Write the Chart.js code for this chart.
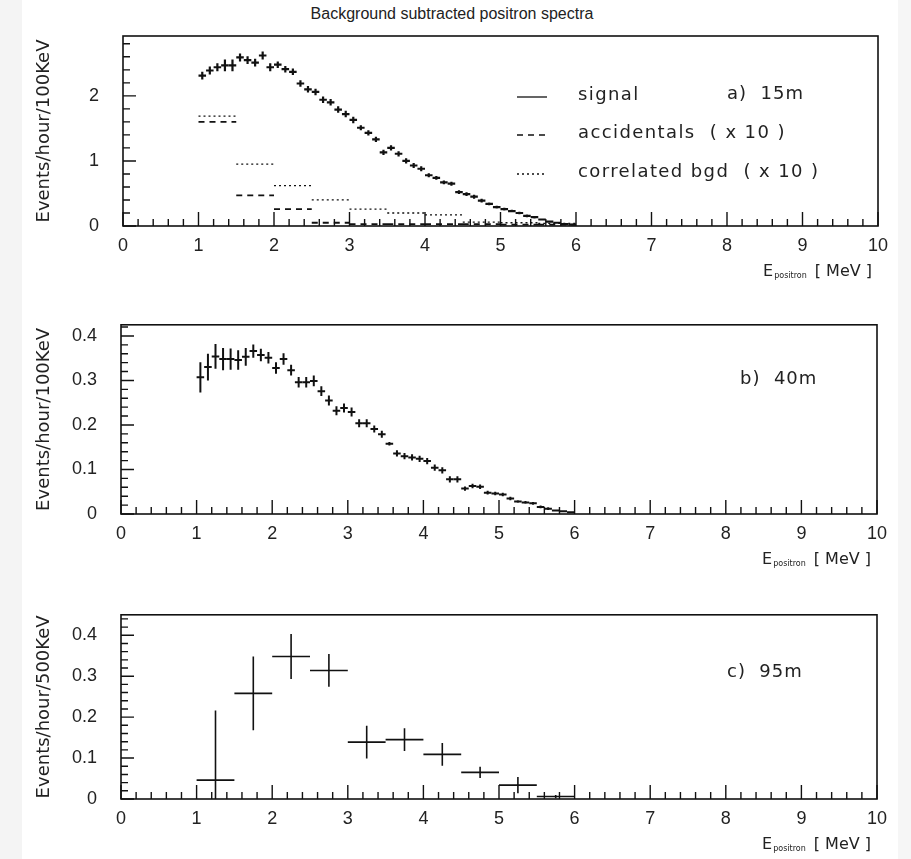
<!DOCTYPE html>
<html><head><meta charset="utf-8">
<script src="https://cdn.jsdelivr.net/npm/chart.js@4.4.1/dist/chart.umd.min.js"></script>
<style>
html,body{margin:0;padding:0;background:#fff;}
#wrap{position:relative;width:911px;height:859px;overflow:hidden;background:#fff;}
#lstrip{position:absolute;left:0;top:0;width:22px;height:859px;background:#f4f4f4;}
#rstrip{position:absolute;left:898px;top:0;width:13px;height:859px;background:#f6f6f6;}
canvas{position:absolute;left:0;}
#title{position:absolute;left:0;top:5px;width:904px;text-align:center;font:16px "Liberation Sans",sans-serif;color:#222;}
</style></head><body>
<div id="wrap">
<div id="lstrip"></div><div id="rstrip"></div>
<div id="title">Background subtracted positron spectra</div>
<canvas id="ca" width="911" height="290" style="top:0"></canvas>
<canvas id="cb" width="911" height="290" style="top:290px"></canvas>
<canvas id="cc" width="911" height="279" style="top:580px"></canvas>
</div>
<script>
// ---------------- data ----------------
const xTickLabels = ["0","1","2","3","4","5","6","7","8","9","10"];
const yTickLabelsA = ["0","1","2"];
const yTickLabelsB = ["0","0.1","0.2","0.3","0.4"];
const yTickLabelsC = ["0","0.1","0.2","0.3","0.4"];

// 100 keV bin centres (MeV)
const binCenters100 = [1.05,1.15,1.25,1.35,1.45,1.55,1.65,1.75,1.85,1.95,
  2.05,2.15,2.25,2.35,2.45,2.55,2.65,2.75,2.85,2.95,
  3.05,3.15,3.25,3.35,3.45,3.55,3.65,3.75,3.85,3.95,
  4.05,4.15,4.25,4.35,4.45,4.55,4.65,4.75,4.85,4.95,
  5.05,5.15,5.25,5.35,5.45,5.55,5.65,5.75,5.85,5.95];

// a) 15 m : signal, events/hour/100keV
const signalA = [2.31,2.39,2.44,2.47,2.47,2.59,2.55,2.51,2.62,2.44,
  2.48,2.41,2.37,2.19,2.10,2.06,1.94,1.90,1.79,1.72,
  1.63,1.51,1.43,1.33,1.13,1.20,1.11,1.00,0.93,0.88,
  0.78,0.74,0.67,0.65,0.52,0.49,0.45,0.39,0.34,0.29,
  0.26,0.23,0.20,0.155,0.135,0.10,0.067,0.05,0.03,0.02];
const signalAErr = [0.06,0.06,0.06,0.09,0.09,0.06,0.06,0.06,0.06,0.06,
  0.05,0.05,0.05,0.05,0.05,0.05,0.05,0.05,0.05,0.05,
  0.05,0.04,0.04,0.04,0.04,0.04,0.04,0.04,0.04,0.04,
  0.03,0.03,0.03,0.03,0.03,0.03,0.03,0.03,0.02,0.02,
  0.02,0.02,0.02,0.02,0.02,0.01,0.01,0.01,0.01,0.01];

// 500 keV background bins (lower edges, MeV)
const bgBinLow = [1.0,1.5,2.0,2.5,3.0,3.5,4.0,4.5,5.0,5.5];
const accidentalsA = [1.60,0.47,0.26,0.05,0.03,0.03,0.03,0.03,0.02,0.02]; // x10
const correlatedA  = [1.69,0.95,0.62,0.40,0.26,0.20,0.17,0.06,0.05,0.04]; // x10

// b) 40 m : signal, events/hour/100keV
const signalB = [0.307,0.330,0.354,0.348,0.348,0.346,0.353,0.366,0.357,0.351,
  0.328,0.348,0.323,0.296,0.296,0.299,0.276,0.255,0.232,0.238,
  0.229,0.204,0.204,0.191,0.179,0.158,0.136,0.130,0.127,0.124,
  0.119,0.104,0.098,0.078,0.078,0.057,0.063,0.061,0.048,0.046,
  0.044,0.035,0.028,0.026,0.024,0.016,0.012,0.008,0.006,0.004];
const signalBErr = [0.034,0.030,0.028,0.025,0.024,0.022,0.020,0.015,0.014,0.013,
  0.013,0.013,0.012,0.012,0.012,0.012,0.011,0.011,0.010,0.010,
  0.010,0.009,0.009,0.008,0.008,0.004,0.007,0.007,0.007,0.007,
  0.007,0.007,0.007,0.007,0.007,0.005,0.005,0.005,0.004,0.004,
  0.004,0.004,0.003,0.003,0.003,0.003,0.003,0.002,0.002,0.002];

// c) 95 m : signal, events/hour/500keV
const binCenters500 = [1.25,1.75,2.25,2.75,3.25,3.75,4.25,4.75,5.25,5.75];
const signalC = [0.046,0.258,0.348,0.314,0.139,0.145,0.109,0.065,0.034,0.006];
const signalCErr = [0.17,0.09,0.055,0.04,0.04,0.028,0.028,0.014,0.02,0.004];

// ---------------- drawing ----------------
const INK = '#111';
const TXT = '#222';
const TICK_FONT = {family: "'Liberation Sans', sans-serif", size: 18};
const TITLE_FONT = {family: "'DejaVu Sans', sans-serif", size: 18};

function points(xs, ys) { return xs.map((x, i) => ({x: x, y: ys[i]})); }
function steps(lows, width, vals) {
  const out = [];
  lows.forEach((lo, i) => {
    out.push({x: lo, y: vals[i]});
    out.push({x: lo + width, y: vals[i]});
    out.push({x: lo + width, y: null});
  });
  return out;
}

const hbook = {
  id: 'hbook',
  afterDatasetsDraw(chart, args, o) {
    const ctx = chart.ctx, a = chart.chartArea, xs = chart.scales.x, ys = chart.scales.y;
    ctx.save();
    ctx.beginPath();
    ctx.rect(a.left, a.top, a.right - a.left, a.bottom - a.top);
    ctx.clip();
    chart.data.datasets.forEach(ds => {
      if (!ds.errY) return;
      ctx.strokeStyle = INK;
      ctx.lineWidth = ds.barWidth;
      ds.data.forEach((p, i) => {
        const px = xs.getPixelForValue(p.x), py = ys.getPixelForValue(p.y);
        ctx.beginPath();
        ctx.moveTo(xs.getPixelForValue(p.x - ds.halfX), py);
        ctx.lineTo(xs.getPixelForValue(p.x + ds.halfX), py);
        ctx.moveTo(px, ys.getPixelForValue(p.y - ds.errY[i]));
        ctx.lineTo(px, ys.getPixelForValue(p.y + ds.errY[i]));
        ctx.stroke();
      });
    });
    ctx.restore();

    // frame
    ctx.save();
    ctx.strokeStyle = INK;
    ctx.lineWidth = 1.6;
    ctx.strokeRect(a.left, a.top, a.right - a.left, a.bottom - a.top);
    // inner ticks, x
    ctx.lineWidth = 1.4;
    ctx.beginPath();
    for (let i = 0; i <= 50; i++) {
      const v = i / 5;
      const px = xs.getPixelForValue(v);
      const len = (i % 5 === 0) ? 14 : 7;
      ctx.moveTo(px, a.bottom);
      ctx.lineTo(px, a.bottom - len);
    }
    // inner ticks, y
    const n = Math.floor(ys.max / o.yMinor + 1e-6);
    for (let i = 0; i <= n; i++) {
      const v = i * o.yMinor;
      const py = ys.getPixelForValue(v);
      const len = (i % o.yPer === 0) ? 13 : 7;
      ctx.moveTo(a.left, py);
      ctx.lineTo(a.left + len, py);
    }
    ctx.stroke();

    // x label  E_positron [ MeV ]
    ctx.fillStyle = TXT;
    ctx.textBaseline = 'middle';
    ctx.textAlign = 'right';
    const ly = a.bottom + 46;
    let xr = a.right - 6;
    ctx.font = "16px 'DejaVu Sans', sans-serif";
    ctx.fillText('[ MeV ]', xr, ly);
    xr -= ctx.measureText('[ MeV ]').width + 8;
    ctx.font = "8px 'DejaVu Sans', sans-serif";
    ctx.fillText('positron', xr, ly + 4);
    xr -= ctx.measureText('positron').width + 1;
    ctx.font = "16px 'DejaVu Sans', sans-serif";
    ctx.fillText('E', xr, ly);

    // annotations
    ctx.textAlign = 'left';
    (o.texts || []).forEach(t => {
      ctx.font = "18px 'DejaVu Sans', sans-serif";
      ctx.letterSpacing = t.ls || '0px';
      ctx.fillText(t.t, a.left + t.dx, a.top + t.dy);
      ctx.letterSpacing = '0px';
    });
    // legend
    (o.legend || []).forEach(l => {
      const y = a.top + l.dy;
      ctx.strokeStyle = INK;
      ctx.lineWidth = 1.3;
      ctx.setLineDash(l.dash);
      ctx.beginPath();
      ctx.moveTo(a.left + l.dx, y + 2);
      ctx.lineTo(a.left + l.dx + 30, y + 2);
      ctx.stroke();
      ctx.setLineDash([]);
      ctx.font = "18px 'DejaVu Sans', sans-serif";
      ctx.letterSpacing = '1.4px';
      ctx.fillText(l.t, a.left + l.dx + 61, y);
      ctx.letterSpacing = '0px';
    });
    ctx.restore();
  }
};

function makeChart(id, cfg) {
  const H = cfg.H;
  return new Chart(document.getElementById(id), {
    type: 'line',
    data: {datasets: cfg.datasets},
    plugins: [hbook],
    options: {
      responsive: false,
      animation: false,
      devicePixelRatio: 1,
      events: [],
      layout: {padding: {left: 0, top: cfg.T, right: 911 - cfg.R, bottom: 0}},
      elements: {point: {radius: 0}},
      plugins: {
        legend: {display: false},
        tooltip: {enabled: false},
        hbook: {yMinor: cfg.yMinor, yPer: cfg.yPer, texts: cfg.texts, legend: cfg.legend}
      },
      scales: {
        x: {
          type: 'linear', min: 0, max: 10,
          grid: {display: false, drawTicks: false},
          border: {display: false},
          ticks: {stepSize: 1, includeBounds: false, padding: 9, color: TXT, font: TICK_FONT,
            maxRotation: 0, autoSkip: false,
            callback: (v, i) => xTickLabels[i]},
          afterFit: s => { s.height = H - cfg.B; }
        },
        y: {
          type: 'linear', min: 0, max: cfg.ymax,
          grid: {display: false, drawTicks: false},
          border: {display: false},
          ticks: {stepSize: cfg.yStep, includeBounds: false, padding: 24, color: TXT, font: TICK_FONT,
            autoSkip: false,
            callback: (v, i) => cfg.yLabels[i]},
          title: {display: true, text: cfg.ytitle, color: TXT, font: TITLE_FONT, padding: {top: 34, bottom: 0}},
          afterFit: s => { s.width = cfg.L; }
        }
      }
    }
  });
}

// panel a
makeChart('ca', {
  H: 290, T: 36, B: 226, L: 123, R: 878, ymax: 2.92, yStep: 1, yMinor: 0.2, yPer: 5,
  yLabels: yTickLabelsA, ytitle: 'Events/hour/100KeV',
  datasets: [
    {label: 'signal', data: points(binCenters100, signalA), showLine: false, pointRadius: 0,
     errY: signalAErr, halfX: 0.05, barWidth: 2.2},
    {label: 'accidentals (x10)', data: steps(bgBinLow, 0.5, accidentalsA), borderColor: INK,
     borderWidth: 1.8, borderDash: [6, 5], pointRadius: 0, spanGaps: false},
    {label: 'correlated bgd (x10)', data: steps(bgBinLow, 0.5, correlatedA), borderColor: INK,
     borderWidth: 1.3, borderDash: [2, 3], pointRadius: 0, spanGaps: false}
  ],
  texts: [{t: 'a)  15m', dx: 604, dy: 58, ls: '1px'}],
  legend: [
    {t: 'signal', dx: 394, dy: 59, dash: []},
    {t: 'accidentals  ( x 10 )', dx: 394, dy: 97, dash: [6, 5]},
    {t: 'correlated bgd  ( x 10 )', dx: 394, dy: 136, dash: [2, 3]}
  ]
});

// panel b
makeChart('cb', {
  H: 290, T: 34, B: 224, L: 121, R: 877, ymax: 0.425, yStep: 0.1, yMinor: 0.02, yPer: 5,
  yLabels: yTickLabelsB, ytitle: 'Events/hour/100KeV',
  datasets: [
    {label: 'signal', data: points(binCenters100, signalB), showLine: false, pointRadius: 0,
     errY: signalBErr, halfX: 0.05, barWidth: 2}
  ],
  texts: [{t: 'b)  40m', dx: 619, dy: 55, ls: '1px'}],
  legend: []
});

// panel c
makeChart('cc', {
  H: 279, T: 29, B: 219, L: 121, R: 877, ymax: 0.45, yStep: 0.1, yMinor: 0.02, yPer: 5,
  yLabels: yTickLabelsC, ytitle: 'Events/hour/500KeV',
  datasets: [
    {label: 'signal', data: points(binCenters500, signalC), showLine: false, pointRadius: 0,
     errY: signalCErr, halfX: 0.25, barWidth: 1.6}
  ],
  texts: [{t: 'c)  95m', dx: 606, dy: 58, ls: '1px'}],
  legend: []
});
</script>
</body></html>
